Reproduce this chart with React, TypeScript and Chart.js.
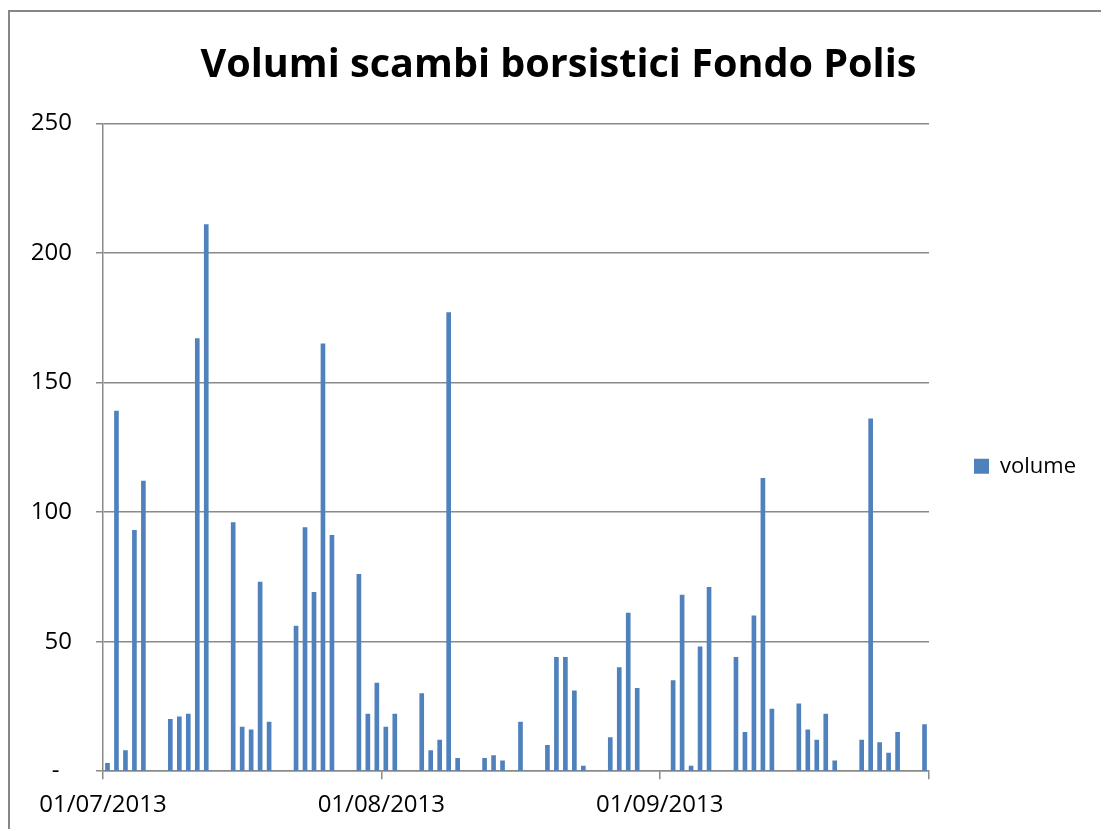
import React, { useEffect, useRef } from "react";
import { Chart, registerables } from "chart.js";

Chart.register(...registerables);

const chartTitle = "Volumi scambi borsistici Fondo Polis";
const seriesName = "volume";

const dates = [
  "2013-07-01", "2013-07-02", "2013-07-03", "2013-07-04", "2013-07-05",
  "2013-07-08", "2013-07-09", "2013-07-10", "2013-07-11", "2013-07-12",
  "2013-07-15", "2013-07-16", "2013-07-17", "2013-07-18", "2013-07-19",
  "2013-07-22", "2013-07-23", "2013-07-24", "2013-07-25", "2013-07-26",
  "2013-07-29", "2013-07-30", "2013-07-31",
  "2013-08-01", "2013-08-02",
  "2013-08-05", "2013-08-06", "2013-08-07", "2013-08-08", "2013-08-09",
  "2013-08-12", "2013-08-13", "2013-08-14", "2013-08-16",
  "2013-08-19", "2013-08-20", "2013-08-21", "2013-08-22", "2013-08-23",
  "2013-08-26", "2013-08-27", "2013-08-28", "2013-08-29",
  "2013-09-02", "2013-09-03", "2013-09-04", "2013-09-05", "2013-09-06",
  "2013-09-09", "2013-09-10", "2013-09-11", "2013-09-12", "2013-09-13",
  "2013-09-16", "2013-09-17", "2013-09-18", "2013-09-19", "2013-09-20",
  "2013-09-23", "2013-09-24", "2013-09-25", "2013-09-26", "2013-09-27",
  "2013-09-30",
];

const volumes = [
  3, 139, 8, 93, 112,
  20, 21, 22, 167, 211,
  96, 17, 16, 73, 19,
  56, 94, 69, 165, 91,
  76, 22, 34,
  17, 22,
  30, 8, 12, 177, 5,
  5, 6, 4, 19,
  10, 44, 44, 31, 2,
  13, 40, 61, 32,
  35, 68, 2, 48, 71,
  44, 15, 60, 113, 24,
  26, 16, 12, 22, 4,
  12, 136, 11, 7, 15,
  18,
];

const axisStart = "2013-07-01";
const axisEnd = "2013-10-01";
const xTickDates = ["2013-07-01", "2013-08-01", "2013-09-01", "2013-10-01"];
const xTickLabels = ["01/07/2013", "01/08/2013", "01/09/2013", ""];
const yTickValues = [0, 50, 100, 150, 200, 250];
const yTickLabels = ["-  ", "50", "100", "150", "200", "250"];

const DAY = 86400000;
const dayIndex = (s: string) =>
  (Date.parse(s + "T00:00:00Z") - Date.parse(axisStart + "T00:00:00Z")) / DAY;

const GRID = "#8a8a8a";
const BAR = "#4F81BD";
const FONT = "'Open Sans', sans-serif";

const framePlugin = {
  id: "frame",
  beforeDraw(chart: any) {
    const { ctx, width, height } = chart;
    ctx.save();
    ctx.fillStyle = "#ffffff";
    ctx.fillRect(0, 0, width, height);
    ctx.strokeStyle = "#868686";
    ctx.lineWidth = 2;
    ctx.beginPath();
    ctx.moveTo(9, height);
    ctx.lineTo(9, 11);
    ctx.lineTo(width, 11);
    ctx.stroke();
    ctx.restore();
  },
};

export default function App() {
  const ref = useRef<HTMLCanvasElement | null>(null);

  useEffect(() => {
    if (!ref.current) return;
    const chart = new Chart(ref.current, {
      type: "bar",
      data: {
        datasets: [
          {
            label: seriesName,
            data: dates.map((d, i) => ({ x: dayIndex(d) + 0.5, y: volumes[i] })),
            backgroundColor: BAR,
            borderWidth: 0,
            barThickness: 4,
          },
        ],
      },
      plugins: [framePlugin],
      options: {
        responsive: false,
        animation: false,
        devicePixelRatio: 1,
        layout: { padding: { left: 31, right: 15, top: 0, bottom: -3 } },
        plugins: {
          title: {
            display: true,
            text: chartTitle,
            color: "#000",
            font: { family: FONT, size: 39.6, weight: "bold" },
            padding: { top: 42, bottom: 34 },
          },
          legend: {
            position: "right",
            fullSize: false,
            title: {
              display: true,
              text: "",
              font: { size: 10 },
              padding: { top: 13, bottom: 13 },
            },
            labels: {
              boxWidth: 15,
              boxHeight: 15,
              padding: 45,
              color: "#000",
              font: { family: FONT, size: 22 },
            },
          },
          tooltip: { enabled: false },
        },
        scales: {
          x: {
            type: "linear",
            min: 0,
            max: dayIndex(axisEnd),
            offset: false,
            afterBuildTicks: (s: any) => {
              s.ticks = xTickDates.map((d) => ({ value: dayIndex(d) }));
            },
            ticks: {
              autoSkip: false,
              maxRotation: 0,
              minRotation: 0,
              padding: 12,
              color: "#000",
              font: { family: FONT, size: 24 },
              callback: (v: any) => {
                const i = xTickDates.findIndex((d) => dayIndex(d) === v);
                return i >= 0 ? xTickLabels[i] : "";
              },
            },
            grid: {
              offset: false,
              drawOnChartArea: false,
              drawTicks: true,
              tickLength: 8,
              color: GRID,
              lineWidth: 1.5,
            },
            border: { display: true, color: GRID, width: 1.5 },
          },
          y: {
            min: 0,
            max: 250,
            afterBuildTicks: (s: any) => {
              s.ticks = yTickValues.map((v) => ({ value: v }));
            },
            afterFit: (s: any) => {
              s.width = 72;
            },
            ticks: {
              padding: 24,
              color: "#000",
              font: { family: FONT, size: 24 },
              callback: (v: any) => {
                const i = yTickValues.indexOf(v);
                return i >= 0 ? yTickLabels[i] : "";
              },
            },
            grid: { color: GRID, lineWidth: 1.5, tickLength: 7 },
            border: { display: true, color: GRID, width: 1.5 },
          },
        },
      },
    } as any);
    return () => chart.destroy();
  }, []);

  return (
    <div style={{ position: "absolute", left: 0, top: 0, width: 1101, height: 829 }}>
      <canvas ref={ref} width={1101} height={829} style={{ display: "block" }} />
    </div>
  );
}
